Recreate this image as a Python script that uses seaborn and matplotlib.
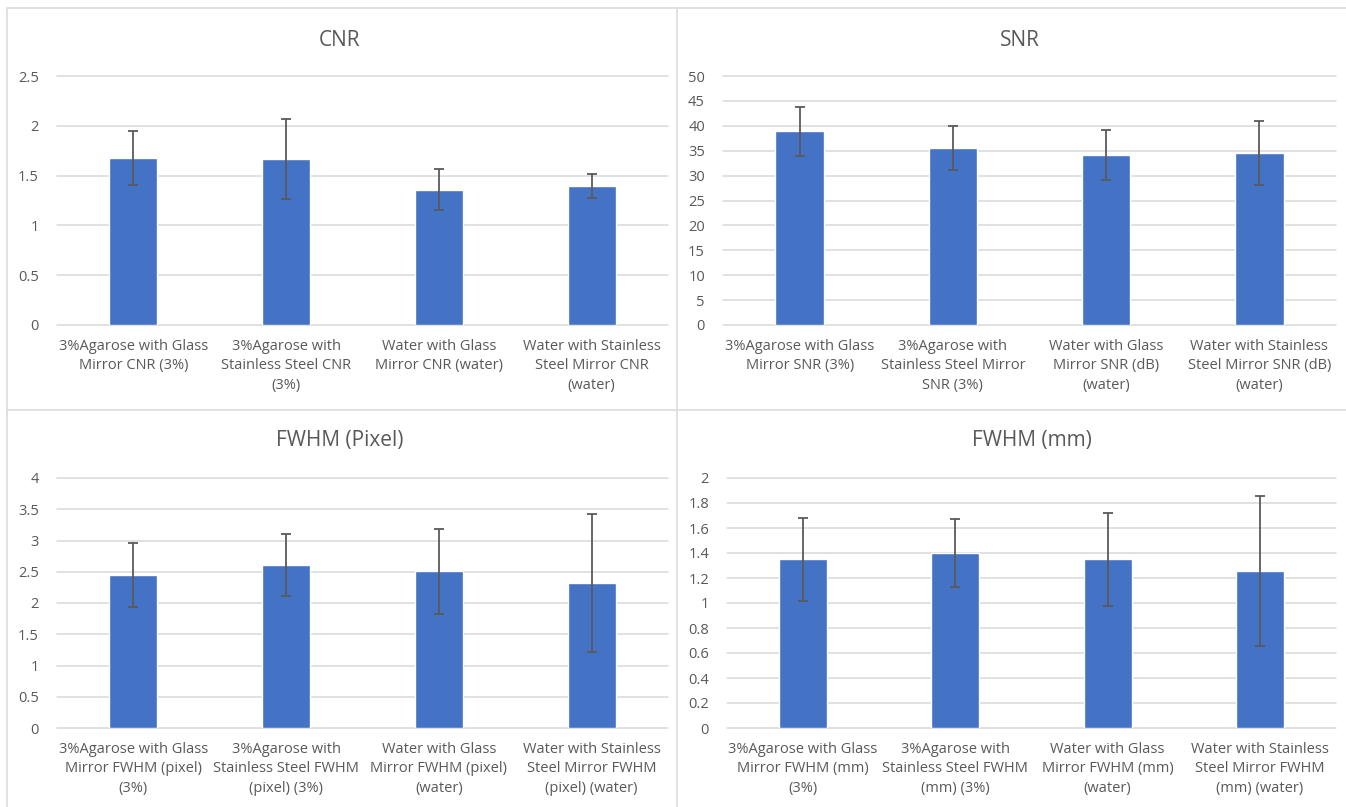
import matplotlib
matplotlib.use('Agg')
import matplotlib.pyplot as plt
import seaborn as sns
import pandas as pd
from matplotlib.lines import Line2D
from matplotlib.ticker import FuncFormatter

sns.set_theme(style='white')
plt.rcParams['font.family'] = ['Open Sans', 'DejaVu Sans']

# ---------------- data ----------------
cnr_labels = ["3%Agarose with Glass\nMirror CNR (3%)",
              "3%Agarose with\nStainless Steel CNR\n(3%)",
              "Water with Glass\nMirror CNR (water)",
              "Water with Stainless\nSteel Mirror CNR\n(water)"]
cnr_values = [1.68, 1.67, 1.36, 1.40]
cnr_errors = [0.27, 0.40, 0.21, 0.12]

snr_labels = ["3%Agarose with Glass\nMirror SNR (3%)",
              "3%Agarose with\nStainless Steel Mirror\nSNR (3%)",
              "Water with Glass\nMirror SNR (dB)\n(water)",
              "Water with Stainless\nSteel Mirror SNR (dB)\n(water)"]
snr_values = [38.9, 35.6, 34.2, 34.5]
snr_errors = [4.9, 4.4, 5.0, 6.4]

fwhm_px_labels = ["3%Agarose with Glass\nMirror FWHM (pixel)\n(3%)",
                  "3%Agarose with\nStainless Steel FWHM\n(pixel) (3%)",
                  "Water with Glass\nMirror FWHM (pixel)\n(water)",
                  "Water with Stainless\nSteel Mirror FWHM\n(pixel) (water)"]
fwhm_px_values = [2.45, 2.61, 2.51, 2.32]
fwhm_px_errors = [0.51, 0.50, 0.68, 1.11]

fwhm_mm_labels = ["3%Agarose with Glass\nMirror FWHM (mm)\n(3%)",
                  "3%Agarose with\nStainless Steel FWHM\n(mm) (3%)",
                  "Water with Glass\nMirror FWHM (mm)\n(water)",
                  "Water with Stainless\nSteel Mirror FWHM\n(mm) (water)"]
fwhm_mm_values = [1.35, 1.40, 1.35, 1.255]
fwhm_mm_errors = [0.33, 0.27, 0.37, 0.60]

titles = ["CNR", "SNR", "FWHM (Pixel)", "FWHM (mm)"]
y_max = [2.5, 50, 4, 2]
y_step = [0.5, 5, 0.5, 0.2]

# ---------------- style ----------------
W, H = 1346, 807
BAR = "#4472C4"
TXT = "#595959"
GRID = "#D9D9D9"
ERR = "#5A5A5A"

fig = plt.figure(figsize=(W / 100, H / 100), dpi=100)
fig.patch.set_facecolor('white')


def fx(x):
    return x / W


def fy(y):
    return 1 - y / H


# panel borders (pixels)
for (x0, y0, x1, y1) in [(7, 8, 7, 807), (7, 8, 1346, 8), (677, 8, 677, 807), (7, 410, 1346, 410)]:
    fig.add_artist(Line2D([fx(x0), fx(x1)], [fy(y0), fy(y1)], color="#DCDCDC", lw=1.2))

# axes boxes in pixels: left, right, top, bottom
boxes = [(57, 668, 76, 325), (723, 1336, 76, 325), (57, 668, 478, 728), (727, 1336, 478, 728)]
title_pos = [(340, 40), (1020, 40), (340, 440), (1032, 440)]

datasets = [(cnr_labels, cnr_values, cnr_errors),
            (snr_labels, snr_values, snr_errors),
            (fwhm_px_labels, fwhm_px_values, fwhm_px_errors),
            (fwhm_mm_labels, fwhm_mm_values, fwhm_mm_errors)]

fmt = FuncFormatter(lambda v, p: f"{v:.10g}")

for i, ((labels, values, errors), (l, r, t, b)) in enumerate(zip(datasets, boxes)):
    ax = fig.add_axes([fx(l), fy(b), fx(r) - fx(l), fy(t) - fy(b)])
    df = pd.DataFrame({"category": labels, "value": values})
    sns.barplot(data=df, x="category", y="value", ax=ax, color=BAR,
                width=0.315, saturation=1, errorbar=None, zorder=2)
    ax.errorbar(x=list(range(len(values))), y=values, yerr=errors, fmt='none',
                ecolor=ERR, elinewidth=1.3, capsize=3.5, capthick=1.3, zorder=3)
    n_ticks = int(round(y_max[i] / y_step[i]))
    ticks = [round(k * y_step[i], 6) for k in range(n_ticks + 1)]
    ax.set_ylim(0, y_max[i])
    ax.set_yticks(ticks)
    ax.yaxis.set_major_formatter(fmt)
    ax.set_xlim(-0.5, len(values) - 0.5)
    ax.grid(axis='y', color=GRID, lw=1.1, zorder=0)
    ax.set_axisbelow(True)
    for s in ax.spines.values():
        s.set_visible(False)
    ax.set_xlabel("")
    ax.set_ylabel("")
    ax.tick_params(axis='y', length=0, pad=13, labelsize=10.5, labelcolor=TXT)
    ax.tick_params(axis='x', length=0, pad=10, labelsize=10.5, labelcolor=TXT)
    for lab in ax.get_xticklabels():
        lab.set_linespacing(1.4)
        lab.set_ha('center')
        lab.set_multialignment('center')
    for gl in ax.get_ygridlines():
        gl.set_clip_on(False)
    ax.patch.set_alpha(0)
    tx, ty = title_pos[i]
    fig.text(fx(tx), fy(ty), titles[i], ha='center', va='center',
             fontsize=15, color=TXT)

fig.savefig("out.png", dpi=100, facecolor='white')
